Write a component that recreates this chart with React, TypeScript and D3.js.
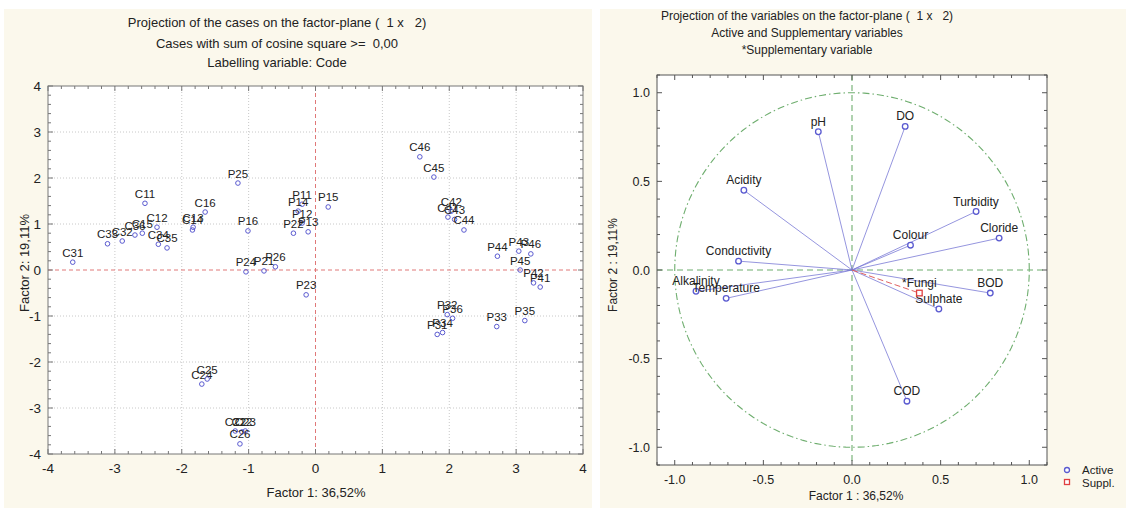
import React from "react";
import * as d3 from "d3";

// cases on factor plane
const caseCodes = [
  "C11", "C12", "C13", "C14", "C15", "C16",
  "C21", "C22", "C23", "C24", "C25", "C26",
  "C31", "C32", "C33", "C34", "C35", "C36",
  "C41", "C42", "C43", "C44", "C45", "C46",
  "P11", "P12", "P13", "P14", "P15", "P16",
  "P21", "P22", "P23", "P24", "P25", "P26",
  "P31", "P32", "P33", "P34", "P35", "P36",
  "P41", "P42", "P43", "P44", "P45", "P46",
];
const caseF1 = [
  -2.55, -2.37, -1.83, -1.84, -2.59, -1.65,
  -1.2, -1.1, -1.05, -1.7, -1.62, -1.13,
  -3.63, -2.89, -3.11, -2.35, -2.22, -2.7,
  1.98, 2.03, 2.08, 2.22, 1.77, 1.56,
  -0.2, -0.2, -0.11, -0.26, 0.19, -1.01,
  -0.77, -0.33, -0.14, -1.04, -1.16, -0.6,
  1.82, 1.97, 2.71, 1.9, 3.13, 2.05,
  3.36, 3.26, 3.04, 2.72, 3.06, 3.22,
];
const caseF2 = [
  1.45, 0.93, 0.93, 0.87, 0.8, 1.26,
  -3.5, -3.52, -3.5, -2.48, -2.37, -3.78,
  0.17, 0.63, 0.57, 0.56, 0.48, 0.76,
  1.15, 1.28, 1.1, 0.87, 2.02, 2.46,
  1.43, 1.02, 0.83, 1.28, 1.37, 0.85,
  -0.02, 0.8, -0.54, -0.04, 1.89, 0.07,
  -1.4, -0.97, -1.23, -1.36, -1.1, -1.05,
  -0.37, -0.28, 0.41, 0.3, 0.0, 0.35,
];
const caseTicks = [-4, -3, -2, -1, 0, 1, 2, 3, 4];

// variables on factor plane
const varNames = [
  "pH", "DO", "Acidity", "Turbidity", "Cloride", "Colour",
  "Conductivity", "Alkalinity", "Temperature", "BOD", "Sulphate", "COD",
];
const varF1 = [-0.19, 0.3, -0.61, 0.7, 0.83, 0.33, -0.64, -0.88, -0.71, 0.78, 0.49, 0.31];
const varF2 = [0.78, 0.81, 0.45, 0.33, 0.18, 0.14, 0.05, -0.12, -0.16, -0.13, -0.22, -0.74];
const suppNames = ["*Fungi"];
const suppF1 = [0.38];
const suppF2 = [-0.13];
const varTicks = [-1.0, -0.5, 0.0, 0.5, 1.0];

const FONT = "'Liberation Sans', Arial, sans-serif";
const CREAM = "#fbf8ec";
const BLUE = "#5a5ad0";
const PRE = { whiteSpace: "pre" } as React.CSSProperties;

function frameTicks(xs, ys, x0, x1, y0, y1, major) {
  const out = [];
  xs.forEach((v, i) => {
    const len = major(v) ? 5 : 3;
    out.push(<line key={"bt" + i} x1={v.px} x2={v.px} y1={y1} y2={y1 - len} />);
    out.push(<line key={"tt" + i} x1={v.px} x2={v.px} y1={y0} y2={y0 + len} />);
  });
  ys.forEach((v, i) => {
    const len = major(v) ? 5 : 3;
    out.push(<line key={"lt" + i} x1={x0} x2={x0 + len} y1={v.px} y2={v.px} />);
    out.push(<line key={"rt" + i} x1={x1} x2={x1 - len} y1={v.px} y2={v.px} />);
  });
  return out;
}

function CasesPlot() {
  const x = d3.scaleLinear().domain([-4, 4]).range([48, 583]);
  const y = d3.scaleLinear().domain([-4, 4]).range([454, 86]);
  const minorX = d3.range(-4, 4.001, 0.2).map((v) => ({ v, px: x(v) }));
  const minorY = d3.range(-4, 4.001, 0.2).map((v) => ({ v, px: y(v) }));
  const isMajor = (t) => Math.abs(t.v - Math.round(t.v)) < 1e-6;
  return (
    <g fontFamily={FONT}>
      <rect x={4} y={9} width={588} height={499} fill={CREAM} />
      <rect x={48} y={86} width={535} height={368} fill="#fff" />
      <g textAnchor="middle" fontSize={13} fill="#222">
        <text x={277} y={27} style={PRE}>Projection of the cases on the factor-plane (  1 x   2)</text>
        <text x={277} y={48} style={PRE}>Cases with sum of cosine square &gt;=  0,00</text>
        <text x={277} y={67}>Labelling variable: Code</text>
      </g>
      <g stroke="#c8c8c8" strokeDasharray="1,2">
        {caseTicks.filter((t) => t !== 0 && t !== -4 && t !== 4).map((t) => (
          <g key={t}>
            <line x1={x(t)} x2={x(t)} y1={86} y2={454} />
            <line x1={48} x2={583} y1={y(t)} y2={y(t)} />
          </g>
        ))}
      </g>
      <g stroke="#e07878" strokeDasharray="4,3">
        <line x1={x(0)} x2={x(0)} y1={86} y2={454} />
        <line x1={48} x2={583} y1={y(0)} y2={y(0)} />
      </g>
      <rect x={48} y={86} width={535} height={368} fill="none" stroke="#777" />
      <g stroke="#777">{frameTicks(minorX, minorY, 48, 583, 86, 454, isMajor)}</g>
      <g fontSize={13.5} fill="#222">
        {caseTicks.map((t) => (
          <text key={"xl" + t} x={x(t)} y={473} textAnchor="middle">{t}</text>
        ))}
        {caseTicks.map((t) => (
          <text key={"yl" + t} x={41} y={y(t) + 5} textAnchor="end">{t}</text>
        ))}
      </g>
      <text x={316} y={497} textAnchor="middle" fontSize={13} fill="#222">Factor 1: 36,52%</text>
      <text transform={`translate(29,263) rotate(-90)`} textAnchor="middle" fontSize={13} fill="#222">
        Factor 2: 19,11%
      </text>
      <g>
        {caseCodes.map((c, i) => (
          <g key={c}>
            <circle cx={x(caseF1[i])} cy={y(caseF2[i])} r={2.3} fill="none" stroke={BLUE} strokeWidth={1} />
            <text x={x(caseF1[i])} y={y(caseF2[i]) - 5.5} textAnchor="middle" fontSize={11.5} fill="#222">{c}</text>
          </g>
        ))}
      </g>
    </g>
  );
}

function VarsPlot() {
  const x = d3.scaleLinear().domain([-1.1, 1.1]).range([657, 1047]);
  const y = d3.scaleLinear().domain([-1.1, 1.1]).range([465, 75]);
  const ticksX = d3.range(-1.1, 1.1001, 0.1).map((v) => ({ v, px: x(v) }));
  const ticksY = d3.range(-1.1, 1.1001, 0.1).map((v) => ({ v, px: y(v) }));
  const isMajor = (t) => Math.abs(t.v * 2 - Math.round(t.v * 2)) < 1e-6;
  const circle = d3.range(0, 361, 2).map((a) => [x(Math.cos((a * Math.PI) / 180)), y(Math.sin((a * Math.PI) / 180))]);
  const circlePath = d3.line()(circle);
  return (
    <g fontFamily={FONT}>
      <rect x={600} y={9} width={526} height={499} fill={CREAM} />
      <rect x={657} y={75} width={390} height={390} fill="#fff" />
      <g textAnchor="middle" fontSize={12} fill="#222">
        <text x={807} y={20} style={PRE}>Projection of the variables on the factor-plane (  1 x   2)</text>
        <text x={807} y={37}>Active and Supplementary variables</text>
        <text x={807} y={54}>*Supplementary variable</text>
      </g>
      <g stroke="#6fae6f" strokeWidth={1.1} fill="none">
        <line x1={x(0)} x2={x(0)} y1={75} y2={465} strokeDasharray="6,4" />
        <line x1={657} x2={1047} y1={y(0)} y2={y(0)} strokeDasharray="6,4" />
        <path d={circlePath} strokeDasharray="7,3,1.5,3" />
      </g>
      <g stroke="#7a7ad6" strokeWidth={0.8}>
        {varNames.map((n, i) => (
          <line key={n} x1={x(0)} y1={y(0)} x2={x(varF1[i])} y2={y(varF2[i])} />
        ))}
      </g>
      <g stroke="#e06060" strokeWidth={1} strokeDasharray="6,3">
        {suppNames.map((n, i) => (
          <line key={n} x1={x(0)} y1={y(0)} x2={x(suppF1[i])} y2={y(suppF2[i])} />
        ))}
      </g>
      <rect x={657} y={75} width={390} height={390} fill="none" stroke="#555" />
      <g stroke="#555">{frameTicks(ticksX, ticksY, 657, 1047, 75, 465, isMajor)}</g>
      <g fontSize={12.5} fill="#222">
        {varTicks.map((t) => (
          <text key={"xl" + t} x={x(t)} y={484} textAnchor="middle">{t.toFixed(1)}</text>
        ))}
        {varTicks.map((t) => (
          <text key={"yl" + t} x={650} y={y(t) + 4.5} textAnchor="end">{t.toFixed(1)}</text>
        ))}
      </g>
      <text x={856} y={500} textAnchor="middle" fontSize={12} fill="#222">Factor 1 : 36,52%</text>
      <text transform={`translate(617,265) rotate(-90)`} textAnchor="middle" fontSize={12} fill="#222">
        Factor 2 : 19,11%
      </text>
      {varNames.map((n, i) => (
        <g key={n}>
          <circle cx={x(varF1[i])} cy={y(varF2[i])} r={2.8} fill="#fff" stroke={BLUE} strokeWidth={1.3} />
          <text x={x(varF1[i])} y={y(varF2[i]) - 6} textAnchor="middle" fontSize={12} fill="#222">{n}</text>
        </g>
      ))}
      {suppNames.map((n, i) => (
        <g key={n}>
          <rect x={x(suppF1[i]) - 2.8} y={y(suppF2[i]) - 2.8} width={5.6} height={5.6} fill="#fff" stroke="#e04040" strokeWidth={1.3} />
          <text x={x(suppF1[i])} y={y(suppF2[i]) - 6} textAnchor="middle" fontSize={12} fill="#222">{n}</text>
        </g>
      ))}
      <g fontSize={11.5} fill="#222">
        <circle cx={1067} cy={470} r={2.5} fill="#fff" stroke={BLUE} strokeWidth={1.3} />
        <text x={1082} y={474}>Active</text>
        <rect x={1064.5} y={479.5} width={5} height={5} fill="#fff" stroke="#e04040" strokeWidth={1.3} />
        <text x={1082} y={487}>Suppl.</text>
      </g>
    </g>
  );
}

export default function App() {
  return (
    <svg
      width={1126}
      height={508}
      style={{ position: "absolute", left: 0, top: 0, background: "#fff" }}
    >
      <CasesPlot />
      <VarsPlot />
    </svg>
  );
}
